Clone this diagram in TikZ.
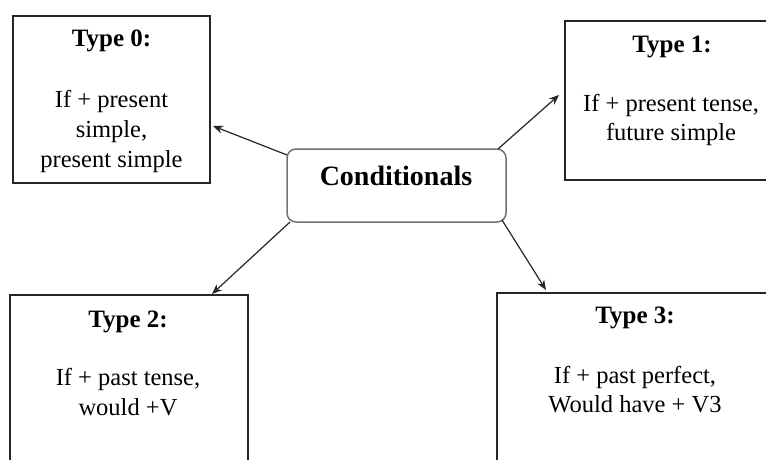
\documentclass[tikz,border=0pt]{standalone}
\usepackage{fontspec}
\setmainfont{Liberation Serif}
\usetikzlibrary{arrows.meta}
\begin{document}
\begin{tikzpicture}[x=1pt,y=-1pt,
  typebox/.style={draw=black!85,line width=1.3pt,rectangle,inner sep=0pt},
  centerbox/.style={draw=black!55,line width=1.5pt,rectangle,rounded corners=9pt,inner sep=0pt,minimum width=219pt,minimum height=73pt},
  ttl/.style={anchor=base,inner sep=0pt,font=\fontsize{25}{30}\selectfont\bfseries},
  body/.style={anchor=base,inner sep=0pt,font=\fontsize{24.5}{30}\selectfont},
  ctext/.style={anchor=base,inner sep=0pt,font=\fontsize{28}{32}\selectfont\bfseries},
  conn/.style={draw=black!85,line width=1.2pt,-{Stealth[length=10pt,width=8pt]}}]
\useasboundingbox[fill=white] (0,0) rectangle (766,460);

% boxes
\node[typebox,minimum width=197pt,minimum height=167pt] (t0) at (111.5,99.5) {};
\node[typebox,minimum width=212pt,minimum height=159pt] (t1) at (671,100.5) {};
\node[typebox,minimum width=238pt,minimum height=185pt] (t2) at (129,387.5) {};
\node[typebox,minimum width=276pt,minimum height=187pt] (t3) at (635,386.5) {};
\node[centerbox] (c) at (396.5,185.5) {};

% texts
\node[ctext] (ct) at (396,185) {Conditionals};

\node[ttl] (t0t) at (111.5,47) {Type 0:};
\node[body] (t0a) at (111.5,107) {If + present};
\node[body] (t0b) at (111.5,137) {simple,};
\node[body] (t0c) at (111.5,167) {present simple};

\node[ttl] (t1t) at (672,53) {Type 1:};
\node[body] (t1a) at (671,111) {If + present tense,};
\node[body] (t1b) at (671,140) {future simple};

\node[ttl] (t2t) at (128,327) {Type 2:};
\node[body] (t2a) at (128,385) {If + past tense,};
\node[body] (t2b) at (128,415) {would +V};

\node[ttl] (t3t) at (635,323) {Type 3:};
\node[body] (t3a) at (635,383) {If + past perfect,};
\node[body] (t3b) at (635,412) {Would have + V3};

% connector end points
\coordinate (s0) at (287,155);
\coordinate (e0) at (213,126);
\coordinate (s1) at (498,149);
\coordinate (e1) at (559,95);
\coordinate (s2) at (290,222);
\coordinate (e2) at (212,294);
\coordinate (s3) at (502,220);
\coordinate (e3) at (546,290);

\draw[conn] (s0) -- (e0);
\draw[conn] (s1) -- (e1);
\draw[conn] (s2) -- (e2);
\draw[conn] (s3) -- (e3);
\end{tikzpicture}
\end{document}
